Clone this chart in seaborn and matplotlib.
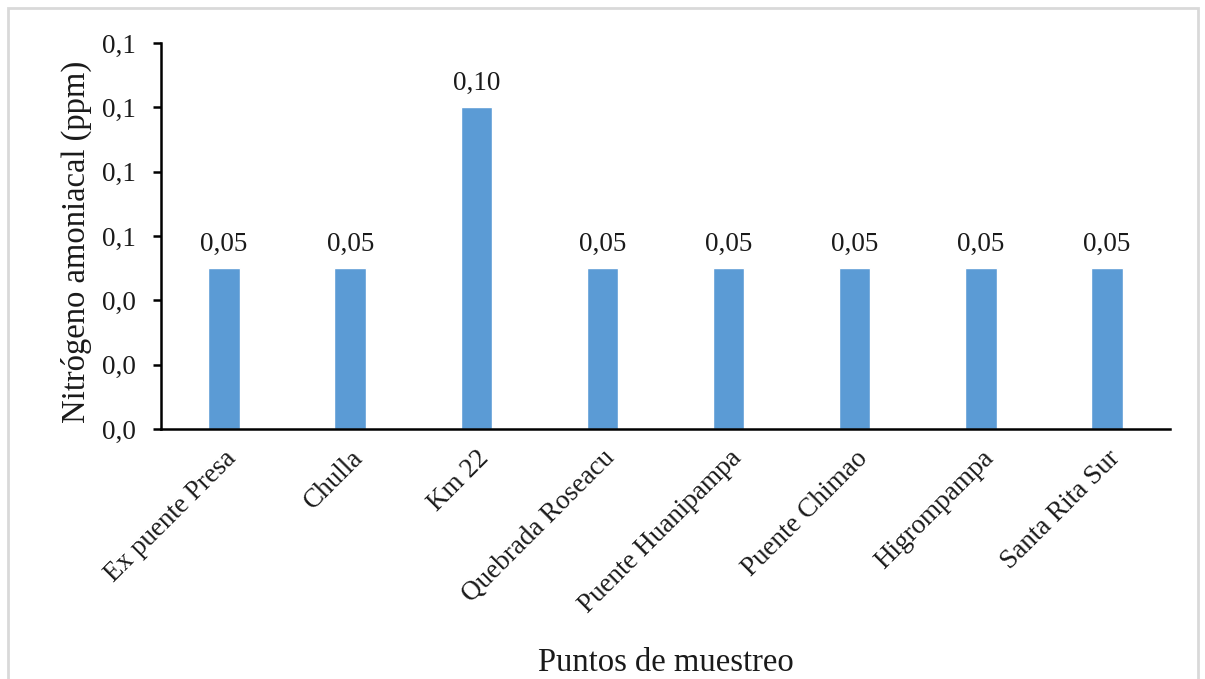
import matplotlib
matplotlib.use("Agg")
import matplotlib.pyplot as plt
from matplotlib.patches import Rectangle
from matplotlib.ticker import FuncFormatter
import seaborn as sns
import pandas as pd

puntos = ["Ex puente Presa", "Chulla", "Km 22", "Quebrada Roseacu",
          "Puente Huanipampa", "Puente Chimao", "Higrompampa", "Santa Rita Sur"]
nitrogeno = [0.05, 0.05, 0.10, 0.05, 0.05, 0.05, 0.05, 0.05]
y_ticks = [0.0, 0.02, 0.04, 0.06, 0.08, 0.10, 0.12]

df = pd.DataFrame({"punto": puntos, "valor": nitrogeno})

sns.set_theme(style="white")
plt.rcParams["font.family"] = ["Liberation Serif", "DejaVu Serif"]

fig = plt.figure(figsize=(12.05, 6.79), dpi=100)
ax = fig.add_axes([0.1336, 0.3682, 0.8374, 0.5685])

sns.barplot(data=df, x="punto", y="valor", color="#5B9BD5", width=0.25,
            saturation=1, ax=ax)

ax.set_xlim(-0.5, len(puntos) - 0.5)
ax.set_ylim(0, 0.12)
ax.set_yticks(y_ticks)
ax.yaxis.set_major_formatter(FuncFormatter(lambda v, p: f"{v:.1f}".replace(".", ",")))

for i, v in enumerate(nitrogeno):
    ax.text(i, v + 0.0055, f"{v:.2f}".replace(".", ","), ha="center", va="baseline",
            fontsize=19.5, color="#1a1a1a")

for s in ["top", "right"]:
    ax.spines[s].set_visible(False)
for s in ["left", "bottom"]:
    ax.spines[s].set_color("black")
    ax.spines[s].set_linewidth(1.8)

ax.tick_params(axis="y", which="major", left=True, length=6, width=1.8,
               color="black", labelsize=19.5, labelcolor="#1a1a1a", pad=12)
ax.tick_params(axis="x", bottom=False, labelsize=19.5, labelcolor="#1a1a1a", pad=6)
plt.setp(ax.get_xticklabels(), rotation=45, ha="right", rotation_mode="anchor")

ax.set_xlabel("Puntos de muestreo", fontsize=23.5, color="#1a1a1a")
ax.set_ylabel("Nitrógeno amoniacal (ppm)", fontsize=23.5, color="#1a1a1a")
ax.xaxis.set_label_coords(0.5, -0.565)
ax.yaxis.set_label_coords(-0.068, 0.484)

# light frame around the chart area
fig.patches.append(Rectangle((8 / 1205, -0.02), 1190 / 1205, 1 - 8 / 679 + 0.02,
                             transform=fig.transFigure, fill=False,
                             edgecolor="#d9d9d9", linewidth=2))

fig.savefig("out.png", dpi=100)
